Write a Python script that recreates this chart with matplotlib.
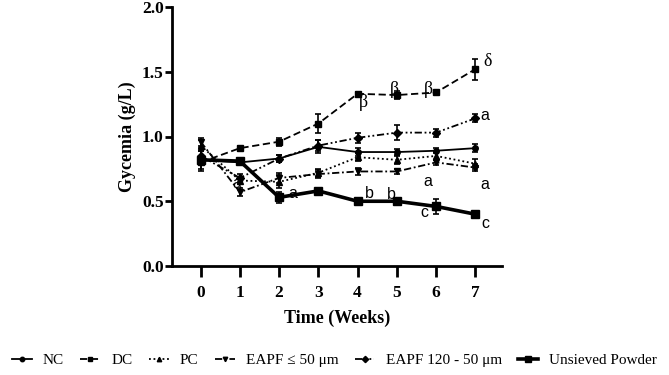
import matplotlib
matplotlib.use("Agg")
import matplotlib.pyplot as plt
from matplotlib.lines import Line2D

weeks = [0, 1, 2, 3, 4, 5, 6, 7]
nc = [0.82, 0.80, 0.83, 0.92, 0.88, 0.88, 0.89, 0.91]
nc_err = [0.09, 0.02, 0.03, 0.05, 0.03, 0.02, 0.02, 0.03]
dc = [0.80, 0.91, 0.96, 1.10, 1.33, 1.32, 1.34, 1.52]
dc_err = [0.05, 0.02, 0.03, 0.07, 0.01, 0.03, 0.01, 0.08]
pc = [0.93, 0.66, 0.65, 0.72, 0.84, 0.82, 0.85, 0.79]
pc_err = [0.04, 0.03, 0.05, 0.03, 0.03, 0.03, 0.03, 0.04]
eapf50 = [0.96, 0.57, 0.68, 0.71, 0.73, 0.73, 0.80, 0.76]
eapf50_err = [0.03, 0.03, 0.04, 0.03, 0.03, 0.02, 0.02, 0.03]
eapf120 = [0.85, 0.68, 0.83, 0.93, 0.99, 1.03, 1.03, 1.14]
eapf120_err = [0.04, 0.03, 0.03, 0.04, 0.04, 0.06, 0.03, 0.03]
unsieved = [0.82, 0.81, 0.53, 0.58, 0.50, 0.50, 0.46, 0.40]
unsieved_err = [0.02, 0.02, 0.04, 0.01, 0.01, 0.01, 0.06, 0.01]

labels = ["NC", "DC", "PC", "EAPF \u2264 50 \u03bcm", "EAPF 120 - 50 \u03bcm", "Unsieved Powder"]

series = [
    (nc, nc_err, '-', 'o', 4, 1.3),
    (dc, dc_err, (0, (4, 2)), 's', 4, 1.3),
    (pc, pc_err, (0, (1, 1.5)), '^', 4, 1.3),
    (eapf50, eapf50_err, (0, (4, 1.5, 1, 1.5)), 'v', 4, 1.3),
    (eapf120, eapf120_err, (0, (4, 1.5, 1, 1.5, 1, 1.5)), 'D', 4, 1.3),
    (unsieved, unsieved_err, '-', 's', 6, 2.6),
]

fig = plt.figure(figsize=(6.69, 3.75), dpi=100)
ax = fig.add_axes([172/669, 1-266/375, (502-172)/669, (266-7)/375])

handles = []
for (vals, err, ls, mk, ms, lw), lab in zip(series, labels):
    ax.errorbar(weeks, vals, yerr=err, color='black', linestyle=ls, marker=mk,
                markersize=ms, linewidth=lw, elinewidth=1.2, capsize=2.5, capthick=1.2)
    handles.append(Line2D([], [], color='black', linestyle=ls, marker=mk,
                          markersize=ms * 0.8, linewidth=lw))

ax.set_xlim(-0.73, 7.68)
ax.set_ylim(0, 2.0)
ax.set_xticks(weeks)
ax.set_yticks([0.0, 0.5, 1.0, 1.5, 2.0])
ax.set_yticklabels(["0.0", "0.5", "1.0", "1.5", "2.0"])
for s in ['top', 'right']:
    ax.spines[s].set_visible(False)
for s in ['left', 'bottom']:
    ax.spines[s].set_linewidth(2)
ax.tick_params(axis='y', length=5, width=2, pad=1)
ax.tick_params(axis='x', length=8, width=2, pad=6)
for t in ax.get_xticklabels() + ax.get_yticklabels():
    t.set_fontfamily('Liberation Serif')
    t.set_fontweight('bold')
    t.set_fontsize(12.5)

ax.set_xlabel("Time (Weeks)", fontfamily='Liberation Serif', fontweight='bold', fontsize=13, labelpad=6)
ax.set_ylabel("Gycemia (g/L)", fontfamily='Liberation Serif', fontweight='bold', fontsize=13, labelpad=4)

sans = dict(fontfamily='Liberation Sans', fontsize=11.5, ha='center', va='center')
serif = dict(fontfamily='Liberation Serif', fontsize=13, ha='center', va='center')
ax.text(0.93, 0.64, "a", **sans)
ax.text(2.35, 0.56, "a", **sans)
ax.text(4.3, 0.56, "b", **sans)
ax.text(4.85, 0.55, "b", **sans)
ax.text(5.7, 0.41, "c", **sans)
ax.text(7.25, 0.33, "c", **sans)
ax.text(5.8, 0.65, "a", **sans)
ax.text(7.25, 0.63, "a", **sans)
ax.text(7.25, 1.16, "a", **sans)
ax.text(7.3, 1.58, "\u03b4", **serif)
ax.text(4.15, 1.26, "\u03b2", **serif)
ax.text(4.95, 1.36, "\u03b2", **serif)
ax.text(5.8, 1.36, "\u03b2", **serif)

fig.legend(handles=handles, labels=labels, loc='lower center', ncol=6,
           bbox_to_anchor=(0.5, 0.0), frameon=False,
           prop={'family': 'Liberation Serif', 'size': 11},
           handlelength=1.3, handletextpad=0.75, columnspacing=1.05,
           borderaxespad=0.3, borderpad=0.2)
fig.savefig("out.png", dpi=100)
